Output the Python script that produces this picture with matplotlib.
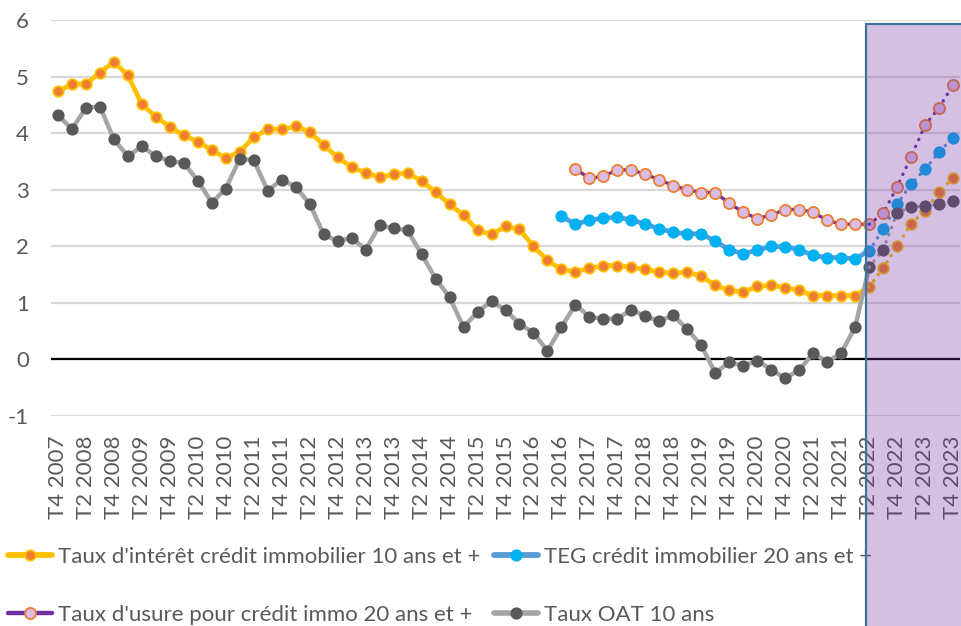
import numpy as np
import matplotlib
matplotlib.use("Agg")
import matplotlib.pyplot as plt
from matplotlib.lines import Line2D
from matplotlib.patches import Rectangle

plt.rcParams['font.family'] = ['Lato', 'DejaVu Sans']
plt.rcParams['axes.unicode_minus'] = False

# quarters T4 2007 .. T4 2023 (65 points), forecast from T2 2022 (index 58)
n_q = 65
fc_start = 58
quarters = []
for i in range(n_q):
    quarters.append("T%d %d" % ((i + 3) % 4 + 1, 2007 + (i + 3) // 4))

taux_interet = [4.75, 4.86, 4.87, 5.07, 5.26, 5.02, 4.51, 4.29, 4.11, 3.96,
                3.85, 3.70, 3.56, 3.67, 3.93, 4.07, 4.07, 4.12, 4.02, 3.79,
                3.57, 3.40, 3.30, 3.22, 3.27, 3.30, 3.15, 2.96, 2.74, 2.55,
                2.28, 2.21, 2.35, 2.30, 2.00, 1.75, 1.59, 1.55, 1.61, 1.66,
                1.66, 1.63, 1.59, 1.55, 1.52, 1.55, 1.47, 1.31, 1.22, 1.19,
                1.29, 1.31, 1.27, 1.22, 1.13, 1.13, 1.13, 1.13, 1.28, 1.61,
                2.01, 2.40, 2.63, 2.96, 3.21]

# TEG starts at T4 2016 (index 36)
teg = [np.nan] * 36 + [2.53, 2.39, 2.46, 2.50, 2.51, 2.47, 2.39, 2.31, 2.25,
                       2.22, 2.22, 2.09, 1.94, 1.87, 1.93, 2.00, 1.99, 1.94,
                       1.84, 1.80, 1.80, 1.78, 1.92, 2.30, 2.74, 3.10, 3.36,
                       3.67, 3.92]

# usure starts at T1 2017 (index 37)
usure = [np.nan] * 37 + [3.37, 3.20, 3.24, 3.35, 3.35, 3.27, 3.18, 3.07, 3.00,
                         2.95, 2.95, 2.76, 2.60, 2.49, 2.55, 2.65, 2.65, 2.60,
                         2.46, 2.39, 2.39, 2.39, 2.58, 3.05, 3.58, 4.14, 4.45,
                         4.85]

oat = [4.32, 4.07, 4.45, 4.47, 3.89, 3.59, 3.77, 3.59, 3.51, 3.47,
       3.16, 2.77, 3.02, 3.55, 3.52, 2.98, 3.18, 3.05, 2.75, 2.21,
       2.09, 2.15, 1.94, 2.37, 2.32, 2.28, 1.86, 1.43, 1.10, 0.57,
       0.84, 1.03, 0.87, 0.63, 0.47, 0.15, 0.57, 0.97, 0.75, 0.72,
       0.72, 0.88, 0.76, 0.68, 0.78, 0.53, 0.25, -0.24, -0.05, -0.11,
       -0.02, -0.18, -0.33, -0.19, 0.11, -0.04, 0.11, 0.57, 1.63, 1.94,
       2.59, 2.70, 2.71, 2.74, 2.80]

labels = ["Taux d'intérêt crédit immobilier 10 ans et +",
          "TEG crédit immobilier 20 ans et +",
          "Taux d'usure pour crédit immo 20 ans et +",
          "Taux OAT 10 ans"]

# (values, line colour, line width, marker face, marker edge, marker size)
styles = [
    (taux_interet, '#FFC000', 3.4, '#ED7D31', '#FFC000', 7.5),
    (teg, '#5B9BD5', 3.4, '#00B0F0', '#00B0F0', 7.5),
    (usure, '#7030A0', 2.4, '#D9BEEA', '#ED7D31', 8),
    (oat, '#A5A5A5', 3.2, '#595959', '#595959', 7.5),
]

txt = '#595959'
fig = plt.figure(figsize=(9.61, 6.26), dpi=100)
ax = fig.add_axes([51 / 961, 1 - 416 / 626, 909 / 961, 396 / 626])

x = np.arange(n_q)
handles = []
for vals, lc, lw, mf, me, ms in styles:
    v = np.array(vals, dtype=float)
    ax.plot(x[:fc_start + 1], v[:fc_start + 1], color=lc, lw=lw, marker='o',
            ms=ms, mfc=mf, mec=me, mew=1.3, zorder=3,
            solid_capstyle='round', solid_joinstyle='round')
    ax.plot(x[fc_start:], v[fc_start:], color=lc, lw=2.4, ls=(0, (0.1, 2.2)),
            dash_capstyle='round', zorder=3)
    ax.plot(x[fc_start + 1:], v[fc_start + 1:], ls='none', marker='o',
            ms=ms, mfc=mf, mec=me, mew=1.3, zorder=3)
    handles.append(Line2D([], [], color=lc, lw=lw + 0.8, ls='-', marker='o',
                          ms=ms, mfc=mf, mec=me, mew=1.3,
                          solid_capstyle='round'))

ax.set_xlim(-0.5, n_q - 0.5)
ax.set_ylim(-1, 6)
ax.set_yticks(range(-1, 7))
ax.set_xticks(x[::2])
ax.set_xticklabels(quarters[::2], rotation=90)
ax.tick_params(axis='both', length=0, labelsize=16, colors=txt)
ax.tick_params(axis='x', pad=14)
ax.tick_params(axis='y', pad=16)
for s in ax.spines.values():
    s.set_visible(False)
ax.grid(axis='y', color='#D9D9D9', lw=1.6, zorder=0)
ax.set_axisbelow(True)
ax.axhline(0, color='black', lw=1.6, zorder=2)

order = [0, 2, 1, 3]
fig.legend([handles[i] for i in order], [labels[i] for i in order],
           ncol=2, loc='upper left', bbox_to_anchor=(8 / 961, 1 - 547 / 626),
           frameon=False, fontsize=16, labelcolor=txt, handlelength=2.0,
           handletextpad=0.25, columnspacing=0.6, labelspacing=1.72,
           borderpad=0, borderaxespad=0)

# forecast box over the whole figure
rect = Rectangle((866 / 961, -0.05), 0.2, 1 - 24 / 626 + 0.05,
                 transform=fig.transFigure, facecolor=(0.44, 0.19, 0.63, 0.3),
                 edgecolor='#41719C', lw=1.6, zorder=10)
fig.patches.append(rect)

fig.savefig('out.png', dpi=100)
